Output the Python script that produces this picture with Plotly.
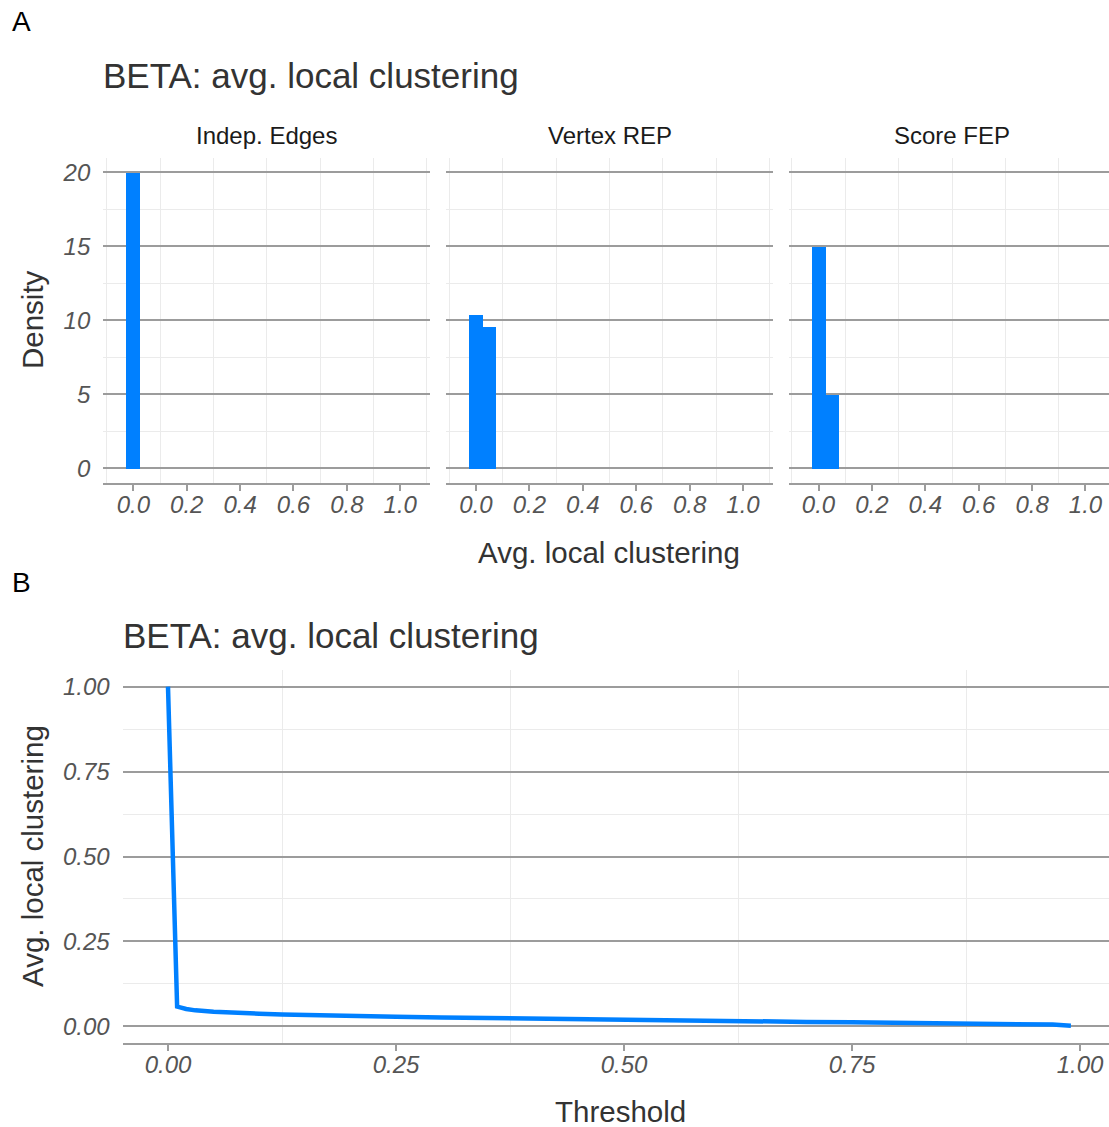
import plotly.graph_objects as go

# ---- data -------------------------------------------------------------
facet_names = ["Indep. Edges", "Vertex REP", "Score FEP"]
bin_width = 0.05
indep_bins = [0.00]
indep_density = [20.0]
vertex_bins = [0.00, 0.05]
vertex_density = [10.4, 9.6]
score_bins = [0.00, 0.05]
score_density = [15.0, 5.0]

threshold = [0.00, 0.01, 0.02, 0.03, 0.05, 0.075, 0.10, 0.125, 0.15, 0.20,
             0.25, 0.30, 0.35, 0.40, 0.45, 0.50, 0.55, 0.60, 0.65, 0.70,
             0.75, 0.80, 0.85, 0.875, 0.90, 0.925, 0.95, 0.97, 0.99]
avg_clustering = [1.000, 0.058, 0.051, 0.047, 0.043, 0.039, 0.037, 0.035, 0.033, 0.030,
                  0.028, 0.026, 0.024, 0.022, 0.021, 0.019, 0.018, 0.016, 0.015, 0.013,
                  0.012, 0.011, 0.010, 0.009, 0.008, 0.008, 0.007, 0.005, 0.002]

hist_ticks = [0.0, 0.2, 0.4, 0.6, 0.8, 1.0]
density_ticks = [0, 5, 10, 15, 20]
thr_ticks = [0.0, 0.25, 0.5, 0.75, 1.0]
clu_ticks = [0.0, 0.25, 0.5, 0.75, 1.0]

# ---- styling ----------------------------------------------------------
W, H = 1109, 1127
FONT = "Liberation Sans, Arial, sans-serif"
BLUE = "#0080FF"
MAJOR = "#9C9C9C"
MINOR = "#EBEBEB"
TICKFONT = dict(family=FONT, size=24, color="#555555", style="italic")


def fx(px):
    return px / W


def fy(py):
    return 1 - py / H


fig = go.Figure()

facet_data = [(indep_bins, indep_density), (vertex_bins, vertex_density),
              (score_bins, score_density)]
for i, (bx, by) in enumerate(facet_data, start=1):
    fig.add_trace(go.Bar(
        x=bx, y=by, width=[bin_width] * len(bx),
        marker=dict(color=BLUE, line=dict(width=0)),
        xaxis=f"x{i if i > 1 else ''}", yaxis=f"y{i if i > 1 else ''}",
        showlegend=False,
    ))

fig.add_trace(go.Scatter(
    x=threshold, y=avg_clustering, mode="lines",
    line=dict(color=BLUE, width=4.5),
    xaxis="x4", yaxis="y4", showlegend=False,
))

# panel A facet geometry (shared x scale)
facet_left = [103.3, 446.0, 788.5]
facet_w = 327.0
xr = [-0.1125, 1.1125]
unit = facet_w / (xr[1] - xr[0])
a_top, a_bot = 157.5, 483.1

common_x = dict(
    showgrid=False, zeroline=False,
    showline=True, linecolor=MAJOR, linewidth=1.5,
    ticks="outside", ticklen=6, tickwidth=1.5, tickcolor=MAJOR,
    tickfont=TICKFONT, fixedrange=True, ticklabelstandoff=-7,
)
common_y = dict(
    showgrid=True, gridcolor=MAJOR, gridwidth=1.5, zeroline=False,
    showline=False, ticks="", tickfont=TICKFONT, fixedrange=True,
)

layout = dict(
    width=W, height=H, margin=dict(l=0, r=0, t=0, b=0),
    paper_bgcolor="white", plot_bgcolor="white",
    bargap=0, showlegend=False,
)

for i, left in enumerate(facet_left, start=1):
    right = min(left + facet_w, W)
    rng = [xr[0], xr[0] + (right - left) / unit]
    key = "" if i == 1 else str(i)
    layout[f"xaxis{key}"] = dict(
        common_x, domain=[fx(left), fx(right)], range=rng,
        tickvals=hist_ticks, ticktext=[f"{v:.1f}" for v in hist_ticks],
        minor=dict(tick0=0.1, dtick=0.2, showgrid=True, gridcolor=MINOR,
                   gridwidth=1.2, ticks=""),
        anchor=f"y{key}",
    )
    layout[f"yaxis{key}"] = dict(
        common_y, domain=[fy(a_bot), fy(a_top)], range=[-1, 21],
        tickvals=density_ticks, showticklabels=(i == 1),
        ticklabelstandoff=12,
        minor=dict(dtick=2.5, showgrid=True, gridcolor=MINOR,
                   gridwidth=1.2, ticks=""),
        anchor=f"x{key}",
    )

# panel B geometry
b_left, b_top, b_bot = 122.7, 669.7, 1043.3
b_zero, b_unit = 168.0, 912.0
layout["xaxis4"] = dict(
    common_x, domain=[fx(b_left), 1.0],
    range=[(b_left - b_zero) / b_unit, (W - b_zero) / b_unit],
    tickvals=thr_ticks, ticktext=[f"{v:.2f}" for v in thr_ticks],
    minor=dict(tick0=0.125, dtick=0.25, showgrid=True, gridcolor=MINOR,
               gridwidth=1.2, ticks=""),
    anchor="y4",
)
layout["yaxis4"] = dict(
    common_y, domain=[fy(b_bot), fy(b_top)], range=[-0.05, 1.05],
    tickvals=clu_ticks, ticktext=[f"{v:.2f}" for v in clu_ticks],
    ticklabelstandoff=12,
    minor=dict(tick0=0.125, dtick=0.25, showgrid=True, gridcolor=MINOR,
               gridwidth=1.2, ticks=""),
    anchor="x4",
)

fig.update_layout(**layout)


def text(x, y, s, size, color="#333333", angle=0, xanchor="center"):
    fig.add_annotation(
        x=fx(x), y=fy(y), xref="paper", yref="paper", text=s,
        showarrow=False, textangle=angle, xanchor=xanchor, yanchor="middle",
        font=dict(family=FONT, size=size, color=color),
    )


# panel tags
text(10, 22, "A", 28, color="#000000", xanchor="left")
text(10, 582, "B", 28, color="#000000", xanchor="left")

# titles
text(101, 75, "BETA: avg. local clustering", 35, xanchor="left")
text(121, 635, "BETA: avg. local clustering", 35, xanchor="left")

# facet strips
for left, name in zip(facet_left, facet_names):
    text(left + facet_w / 2, 135, name, 24, color="#1A1A1A")

# axis titles
text(609, 552, "Avg. local clustering", 29.5)
text(32, 320, "Density", 29.5, angle=-90)
text(620, 1111, "Threshold", 29.5)
text(32, 856, "Avg. local clustering", 29.5, angle=-90)

fig.write_html("out.html")
